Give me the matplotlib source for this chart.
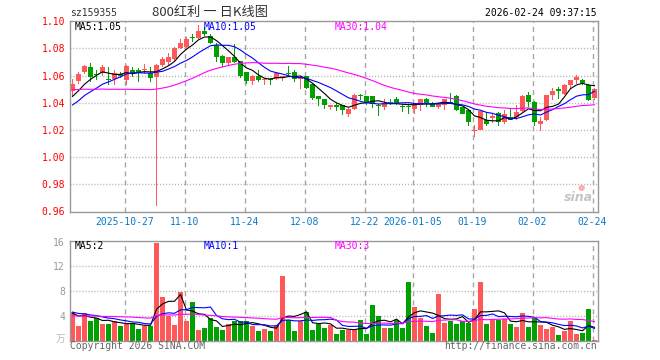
import numpy as np
import pandas as pd
import matplotlib
matplotlib.use('Agg')
import matplotlib.pyplot as plt

plt.rcParams['font.family'] = ['DejaVu Sans Mono', 'Noto Sans CJK SC']

# ---------------- data ----------------
holidays = ['2026-01-01', '2026-01-02', '2026-02-16', '2026-02-17', '2026-02-18',
            '2026-02-19', '2026-02-20', '2026-02-23']
dates = [d for d in pd.bdate_range('2025-10-14', '2026-02-24')
         if d.strftime('%Y-%m-%d') not in holidays]

opens = [1.0486, 1.0560, 1.0627, 1.0664, 1.0615, 1.0620, 1.0578, 1.0578, 1.0615, 1.0565,
         1.0644, 1.0644, 1.0643, 1.0620, 1.0590, 1.0677, 1.0697, 1.0720, 1.0800, 1.0810,
         1.0888, 1.0876, 1.0930, 1.0890, 1.0828, 1.0745, 1.0690, 1.0735, 1.0705, 1.0625,
         1.0560, 1.0600, 1.0566, 1.0575, 1.0572, 1.0588, 1.0617, 1.0625, 1.0572, 1.0595,
         1.0540, 1.0447, 1.0425, 1.0370, 1.0385, 1.0380, 1.0314, 1.0350, 1.0450, 1.0447,
         1.0447, 1.0385, 1.0368, 1.0400, 1.0424, 1.0375, 1.0375, 1.0356, 1.0380, 1.0430,
         1.0400, 1.0368, 1.0380, 1.0405, 1.0447, 1.0367, 1.0348, 1.0193, 1.0202, 1.0269,
         1.0286, 1.0323, 1.0257, 1.0294, 1.0294, 1.0338, 1.0454, 1.0405, 1.0244, 1.0269,
         1.0454, 1.0499, 1.0467, 1.0528, 1.0570, 1.0565, 1.0528, 1.0437]
highs = [1.0578, 1.0630, 1.0676, 1.0696, 1.0640, 1.0680, 1.0664, 1.0640, 1.0630, 1.0676,
         1.0660, 1.0655, 1.0689, 1.0664, 1.0685, 1.0735, 1.0763, 1.0810, 1.0872, 1.0886,
         1.0905, 1.0970, 1.0955, 1.0905, 1.0840, 1.0755, 1.0740, 1.0835, 1.0710, 1.0630,
         1.0605, 1.0644, 1.0585, 1.0580, 1.0625, 1.0600, 1.0669, 1.0644, 1.0595, 1.0600,
         1.0545, 1.0452, 1.0430, 1.0382, 1.0395, 1.0385, 1.0360, 1.0462, 1.0467, 1.0450,
         1.0450, 1.0390, 1.0430, 1.0430, 1.0445, 1.0380, 1.0380, 1.0398, 1.0430, 1.0435,
         1.0405, 1.0400, 1.0430, 1.0474, 1.0455, 1.0370, 1.0350, 1.0232, 1.0340, 1.0331,
         1.0318, 1.0328, 1.0348, 1.0355, 1.0380, 1.0454, 1.0479, 1.0410, 1.0294, 1.0456,
         1.0511, 1.0516, 1.0541, 1.0568, 1.0602, 1.0578, 1.0540, 1.0506]
lows = [1.0447, 1.0540, 1.0615, 1.0553, 1.0570, 1.0600, 1.0528, 1.0528, 1.0580, 1.0528,
        1.0590, 1.0553, 1.0610, 1.0553, 0.9640, 1.0660, 1.0680, 1.0710, 1.0795, 1.0800,
        1.0845, 1.0870, 1.0890, 1.0830, 1.0700, 1.0664, 1.0680, 1.0690, 1.0585, 1.0540,
        1.0530, 1.0553, 1.0530, 1.0530, 1.0565, 1.0560, 1.0590, 1.0553, 1.0504, 1.0500,
        1.0417, 1.0373, 1.0355, 1.0343, 1.0340, 1.0306, 1.0294, 1.0345, 1.0417, 1.0380,
        1.0362, 1.0300, 1.0343, 1.0380, 1.0380, 1.0330, 1.0320, 1.0318, 1.0338, 1.0368,
        1.0365, 1.0350, 1.0345, 1.0392, 1.0338, 1.0315, 1.0225, 1.0150, 1.0198, 1.0227,
        1.0250, 1.0227, 1.0244, 1.0270, 1.0269, 1.0331, 1.0368, 1.0225, 1.0188, 1.0265,
        1.0417, 1.0430, 1.0454, 1.0504, 1.0535, 1.0530, 1.0412, 1.0422]
closes = [1.0541, 1.0610, 1.0669, 1.0590, 1.0602, 1.0664, 1.0565, 1.0620, 1.0595, 1.0669,
          1.0615, 1.0620, 1.0646, 1.0585, 1.0675, 1.0722, 1.0735, 1.0803, 1.0843, 1.0870,
          1.0876, 1.0925, 1.0908, 1.0842, 1.0738, 1.0690, 1.0735, 1.0700, 1.0595, 1.0562,
          1.0600, 1.0568, 1.0576, 1.0566, 1.0620, 1.0592, 1.0612, 1.0572, 1.0590, 1.0505,
          1.0438, 1.0425, 1.0380, 1.0380, 1.0372, 1.0343, 1.0356, 1.0457, 1.0447, 1.0398,
          1.0393, 1.0378, 1.0400, 1.0395, 1.0400, 1.0368, 1.0368, 1.0393, 1.0425, 1.0400,
          1.0370, 1.0398, 1.0425, 1.0398, 1.0343, 1.0320, 1.0257, 1.0197, 1.0336, 1.0244,
          1.0299, 1.0257, 1.0318, 1.0274, 1.0331, 1.0447, 1.0405, 1.0257, 1.0264, 1.0454,
          1.0484, 1.0487, 1.0528, 1.0565, 1.0590, 1.0546, 1.0422, 1.0504]
volumes = [4.6, 2.4, 4.5, 3.1, 3.6, 2.6, 2.6, 3.2, 2.4, 2.8,
           2.8, 1.9, 2.4, 2.4, 15.8, 7.1, 4.0, 2.5, 7.9, 3.2,
           6.3, 1.7, 2.1, 3.6, 2.2, 1.7, 2.6, 3.1, 3.2, 3.2,
           2.4, 1.6, 1.9, 1.6, 2.5, 10.5, 3.3, 1.6, 3.2, 4.6,
           1.7, 2.6, 2.1, 2.5, 1.1, 1.7, 1.7, 1.8, 3.4, 1.1,
           5.8, 4.0, 2.1, 2.1, 3.3, 2.1, 9.5, 5.5, 3.6, 2.4,
           1.2, 7.6, 2.9, 3.1, 2.7, 3.1, 2.9, 5.1, 9.4, 2.7,
           3.5, 3.3, 3.5, 2.7, 2.2, 4.5, 2.2, 3.6, 2.5, 1.9,
           2.2, 0.9, 1.5, 3.2, 1.1, 1.2, 5.1, 0.1]
# estimated closes / volumes of the 29 sessions before the window (read back from MA start values)
pre_closes = [1.058, 1.060, 1.062, 1.059, 1.061, 1.063, 1.060, 1.062, 1.064, 1.066,
              1.063, 1.065, 1.062, 1.055, 1.050, 1.046, 1.042, 1.038, 1.036, 1.034,
              1.030, 1.028, 1.031, 1.034, 1.037, 1.040, 1.043, 1.041, 1.045]
pre_volumes = [3.5, 4.2, 3.1, 3.8, 4.5, 3.3, 2.9, 3.6, 4.0, 3.4,
               3.9, 4.4, 3.2, 3.7, 4.1, 3.5, 3.3, 3.8, 4.2, 3.6,
               4.6, 5.2, 4.9, 4.5, 4.8, 4.5, 4.2, 4.4, 4.3]

price_ticks = [0.96, 0.98, 1.00, 1.02, 1.04, 1.06, 1.08, 1.10]
vol_ticks = [4, 8, 12, 16]
tick_dates = ['2025-10-27', '2025-11-10', '2025-11-24', '2025-12-08', '2025-12-22',
              '2026-01-05', '2026-01-19', '2026-02-02', '2026-02-24']
tick_texts = ['2025-10-27', '11-10', '11-24', '12-08', '12-22',
              '2026-01-05', '01-19', '02-02', '02-24']
title_code = 'sz159355'
title_name = '800红利 一 日K线图'
timestamp = '2026-02-24 09:37:15'
ma_price_labels = ['MA5:1.05', 'MA10:1.05', 'MA30:1.04']
ma_vol_labels = ['MA5:2', 'MA10:1', 'MA30:3']

# ---------------- styling ----------------
RED = '#ff5858'
GREEN = '#00a000'
VGRID = '#a6a6a6'
HGRID = '#b0b0b0'
FRAME = '#999999'

W, H = 660, 360
fig = plt.figure(figsize=(W / 100, H / 100), dpi=100)
ax = fig.add_axes([69.5 / W, 1 - 211.5 / H, 528 / W, 191 / H])
axv = fig.add_axes([69.5 / W, 1 - 340.5 / H, 528 / W, 100 / H])

n = len(closes)
x = np.arange(n)
o = np.array(opens); c = np.array(closes); h = np.array(highs); l = np.array(lows)
v = np.array(volumes)
up = c >= o
cols = np.where(up, RED, GREEN)

date_str = [d.strftime('%Y-%m-%d') for d in dates]
tick_pos = np.array([date_str.index(t) for t in tick_dates]) - 1 / 3

ax.set_ylim(0.9598, 1.1006)
axv.set_ylim(0, 16.2)

for a in (ax, axv):
    a.set_xlim(-0.5, n - 0.5)
    y0, y1 = a.get_ylim()
    for tp in tick_pos:
        a.plot([tp, tp], [y0, y1], color=VGRID, lw=1.0, ls=(0, (3.6, 2.9)), zorder=1.2)
    for s in a.spines.values():
        s.set_color(FRAME)
        s.set_linewidth(1.0)
        s.set_zorder(5)
    a.tick_params(length=0)

# price panel
for yv in price_ticks[1:-1]:
    ax.plot([-0.5, n - 0.5], [yv, yv], color=HGRID, lw=1.0, ls=(0, (0.75, 1.4)), zorder=1.2)
# wicks as 1-px wide bars, bodies as 5-px wide bars
ax.bar(x, h - l, bottom=l, width=1 / 6, color=cols, linewidth=0, zorder=2,
       antialiased=False)
body_bot = np.minimum(o, c)
body_h = np.maximum(np.abs(c - o), 0.0008)
ax.bar(x, body_h, bottom=body_bot, width=5 / 6, color=cols, linewidth=0, zorder=3,
       antialiased=False)

full_c = pd.Series(pre_closes + closes)
npre = len(pre_closes)
for win, colr in ((5, 'black'), (10, '#0000ff'), (30, '#ff00ff')):
    ma = full_c.rolling(win).mean().iloc[npre:].values
    ax.plot(x, ma, color=colr, lw=0.8, zorder=4)

ax.set_yticks(price_ticks)
ax.set_yticklabels(['%.2f' % t for t in price_ticks], color='#ff0000', fontsize=7)
ax.tick_params(axis='y', pad=3.3)
ax.set_xticks(tick_pos)
ax.set_xticklabels(tick_texts, color='#0a78c8', fontsize=7)
ax.tick_params(axis='x', pad=4.3)

# volume panel
for yv in vol_ticks[:-1]:
    axv.plot([-0.5, n - 0.5], [yv, yv], color=HGRID, lw=1.0, ls=(0, (0.75, 1.4)), zorder=1.2)
axv.bar(x, v, width=5 / 6, color=cols, linewidth=0, zorder=2, antialiased=False)
full_v = pd.Series(pre_volumes + volumes)
for win, colr in ((5, 'black'), (10, '#0000ff'), (30, '#ff00ff')):
    ma = full_v.rolling(win).mean().iloc[npre:].values
    axv.plot(x, ma, color=colr, lw=0.8, zorder=4)
axv.set_yticks(vol_ticks)
axv.set_yticklabels([str(t) for t in vol_ticks], color='#999999', fontsize=7)
axv.tick_params(axis='y', pad=3.3)
axv.set_xticks(tick_pos)
axv.set_xticklabels([])


def ftext(px, py, s, **kw):
    fig.text(px / W, 1 - py / H, s, va='center', **kw)


ftext(70, 13, title_code, color='#333333', fontsize=7)
ftext(210, 12.5, title_name, color='#333333', fontsize=9.5, ha='center',
      family=['Noto Sans CJK SC', 'DejaVu Sans'])
ftext(597, 13, timestamp, color='#000000', fontsize=7, ha='right')

ftext(75, 26.5, ma_price_labels[0], color='black', fontsize=7)
ftext(204, 26.5, ma_price_labels[1], color='#0000ff', fontsize=7)
ftext(335, 26.5, ma_price_labels[2], color='#ff00ff', fontsize=7)
ftext(75, 246, ma_vol_labels[0], color='black', fontsize=7)
ftext(204, 246, ma_vol_labels[1], color='#0000ff', fontsize=7)
ftext(335, 246, ma_vol_labels[2], color='#ff00ff', fontsize=7)

ftext(65, 339, '万', color='#bbbbbb', fontsize=7, ha='right',
      family=['Noto Sans CJK SC', 'DejaVu Sans'])
ftext(70, 346, 'Copyright 2026 SINA.COM', color='#666666', fontsize=7)
ftext(597, 346, 'http://finance.sina.com.cn', color='#666666', fontsize=7, ha='right')

# sina watermark
ftext(578, 197, 'sina', color='#c4c4c4', fontsize=9, ha='center', fontweight='bold',
      style='italic', family='DejaVu Sans')
fig.text(581 / W, 1 - 187 / H, '●', color='#f6b0b0', fontsize=6, ha='center', va='center',
         family='DejaVu Sans')

fig.savefig('out.png', dpi=100)
